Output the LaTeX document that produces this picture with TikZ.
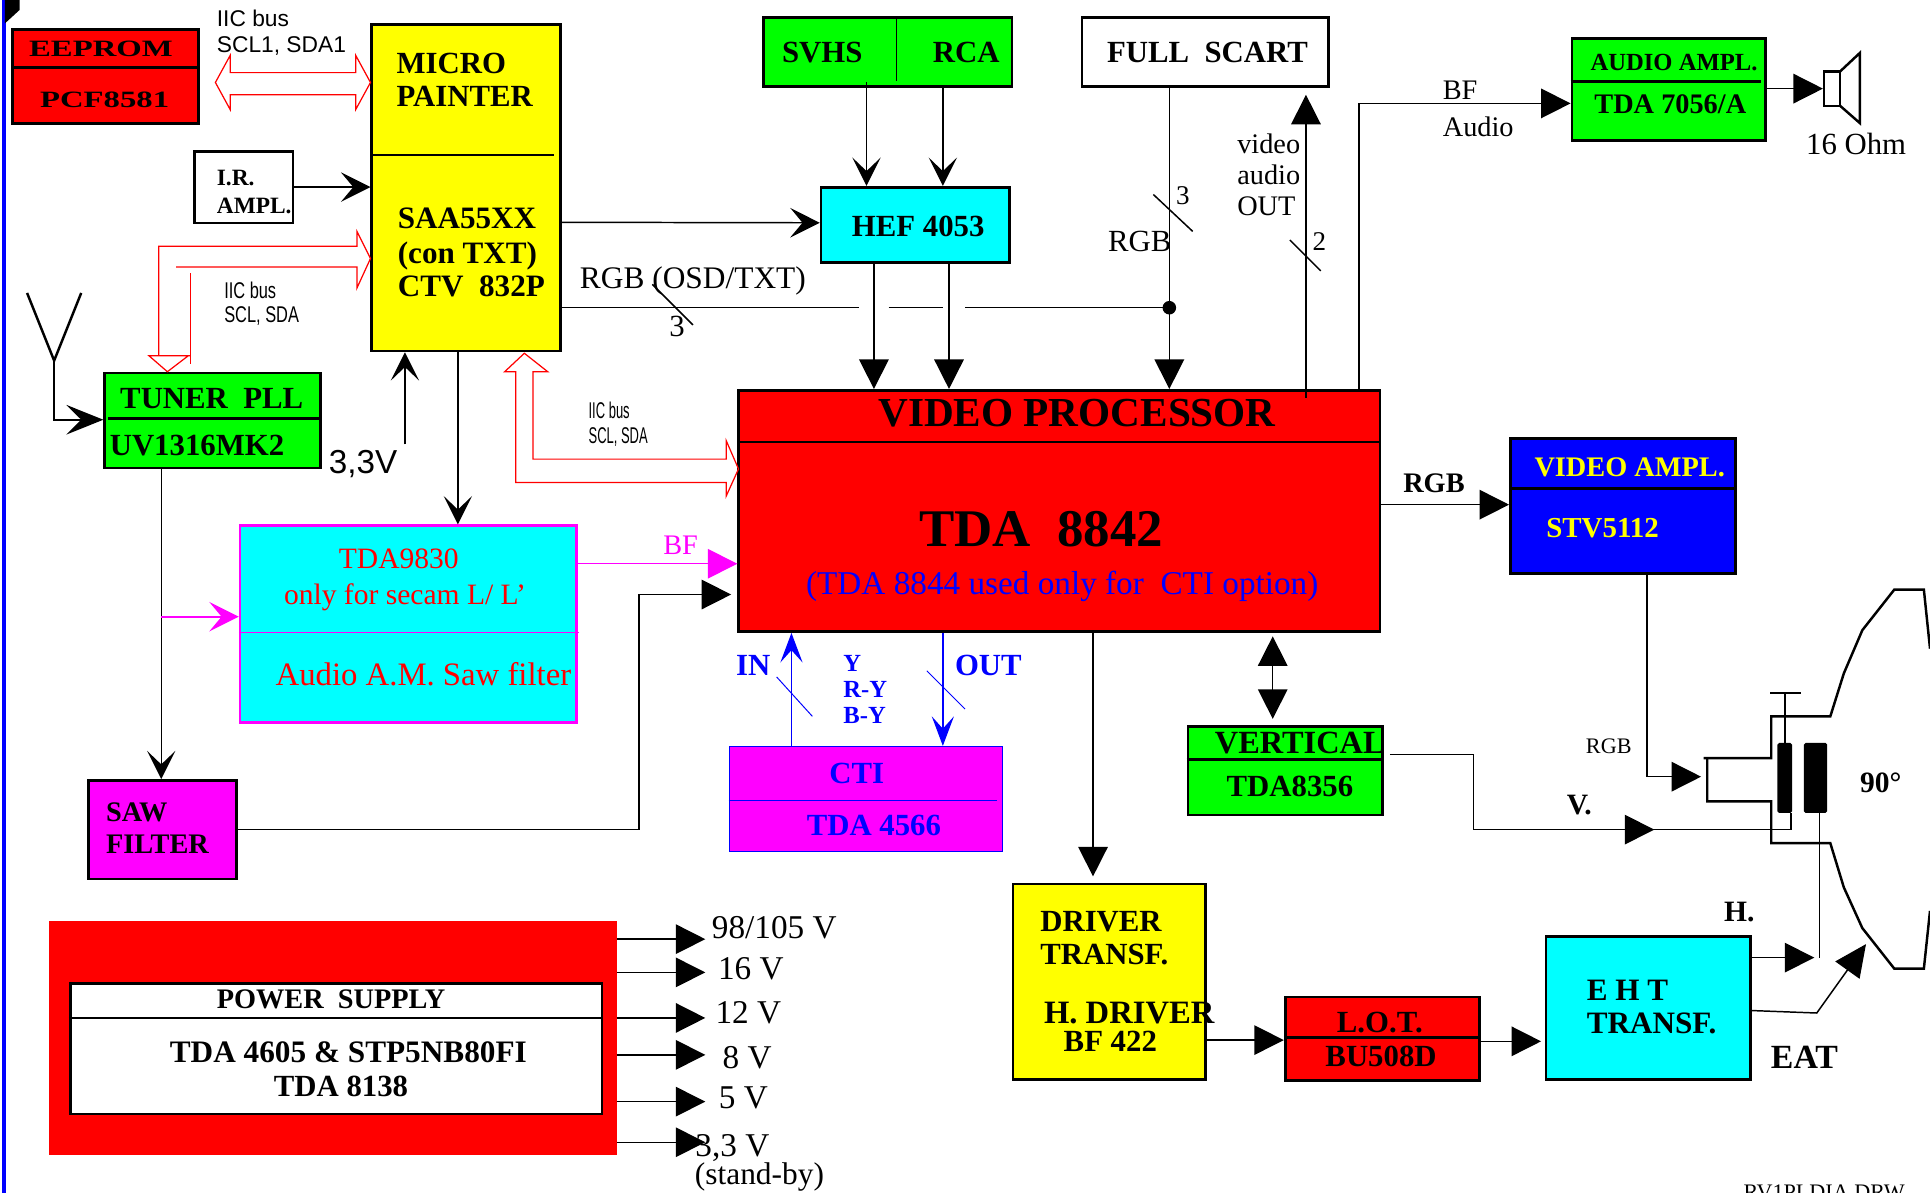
\documentclass[tikz,border=0pt]{standalone}
\usepackage{fontspec}
\setmainfont{Liberation Serif}
\setsansfont{Liberation Sans}
\usetikzlibrary{arrows.meta}
\newcommand{\sz}[1]{\fontsize{#1}{#1}\selectfont}
\definecolor{verde}{RGB}{0,255,0}
\definecolor{ciano}{RGB}{0,255,255}
\definecolor{viola}{RGB}{255,0,255}
\definecolor{giallo}{RGB}{255,255,0}

\begin{document}
\begin{tikzpicture}[
  x=1pt, y=-1pt,
  bloque/.style={rectangle, draw, line width=2.2pt, inner sep=0pt, anchor=north west,
                 xshift=-1pt, yshift=1pt},
  tit/.style={inner sep=0pt, font=\bfseries\sz{25}},
  rom/.style={inner sep=0pt, font=\sz{25}},
  volt/.style={inner sep=0pt, font=\sz{27}},
  sans/.style={inner sep=0pt, font=\sffamily\sz{18.5}},
  filo/.style={line width=1.2pt},
  sep/.style={line width=2.2pt},
  bus/.style={red, line width=1pt},
  grande/.style={-{Triangle[length=24pt,width=24pt]}, line width=1.2pt},
  aperta/.style={-{Stealth[length=23pt,width=23pt,inset=11pt]}, line width=1.2pt},
  tubo/.style={line width=2pt, line join=miter}
]
\useasboundingbox (0,0) rectangle (1568,969);

% blocchi
\node[bloque, fill=red, minimum width=151pt, minimum height=76pt] (eeprom) at (10,24) {};
\node[bloque, fill=giallo, minimum width=153pt, minimum height=265pt] (micro) at (302,20) {};
\node[bloque, fill=white, minimum width=80pt, minimum height=58pt] (iramp) at (158,123) {};
\node[bloque, fill=verde, minimum width=175pt, minimum height=77pt] (tuner) at (85,303) {};
\node[bloque, fill=verde, minimum width=202pt, minimum height=56pt] (svhs) at (620,14) {};
\node[bloque, fill=white, minimum width=200pt, minimum height=56pt] (scart) at (879,14) {};
\node[bloque, fill=ciano, minimum width=153pt, minimum height=61pt] (hef) at (667,152) {};
\node[bloque, fill=verde, minimum width=157pt, minimum height=83pt] (audio) at (1277,31) {};
\node[bloque, fill=red, minimum width=521pt, minimum height=196pt] (vproc) at (600,317) {};
\node[bloque, fill=blue, minimum width=183pt, minimum height=110pt] (vamp) at (1227,356) {};
\node[bloque, draw=viola, fill=ciano, minimum width=273pt, minimum height=160pt] (saw) at (195,427) {};
\node[bloque, fill=viola, minimum width=120pt, minimum height=80pt] (sawf) at (72,634) {};
\node[bloque, draw=blue, line width=1.2pt, fill=viola, minimum width=222pt, minimum height=85pt] (cti) at (593,607) {};
\node[bloque, fill=verde, minimum width=158pt, minimum height=72pt] (vert) at (965,590) {};
\node[bloque, fill=giallo, minimum width=156pt, minimum height=159pt] (driver) at (823,718) {};
\node[bloque, fill=red, minimum width=158pt, minimum height=68pt] (lot) at (1044,810) {};
\node[bloque, fill=ciano, minimum width=166pt, minimum height=116pt] (eht) at (1256,761) {};
\node[bloque, draw=none, fill=red, minimum width=461pt, minimum height=190pt, outer sep=0pt] (alim) at (41,749) {};
\node[bloque, fill=white, minimum width=432pt, minimum height=106pt] (alimi) at (57,799) {};

% divisori
\draw[sep] (eeprom.north west) ++(0,32) -- ++(151,0);
\draw[sep] (micro.north west) ++(0,107) -- ++(149,0);
\draw[sep] (tuner.north west) ++(4,38) -- ++(173,0);
\draw[line width=0.8pt] (svhs.north west) ++(109,0) -- ++(0,53);
\draw[sep] (audio.north west) ++(0,36) -- ++(155,0);
\draw[sep] (vproc.north west) ++(0,43) -- ++(521,0);
\draw[sep] (vamp.north west) ++(0,42) -- ++(183,0);
\draw[viola, line width=1.2pt] (saw.north west) ++(0,88) -- ++(276,0);
\draw[blue, line width=0.8pt] (cti.north west) ++(0,44) -- ++(218,0);
\draw[sep] (vert.north west) ++(0,28) -- ++(158,0);
\draw[sep] (lot.north west) ++(0,34) -- ++(158,0);
\draw[sep] (alimi.north west) ++(0,29) -- ++(432,0);

% testi dei blocchi
\node[tit, font=\bfseries\sz{19}] (eepromT) at (82,40) {\scalebox{1.4}[1]{EEPROM}};
\node[tit, font=\bfseries\sz{19}] (pcfT) at (85,81) {\scalebox{1.4}[1]{PCF8581}};
\node[tit, align=left, anchor=west] (microT) at (322,65) {MICRO\\[2pt]PAINTER};
\node[tit, font=\bfseries\sz{25.3}, align=left, anchor=west] (saaT) at (323,205) {SAA55XX\\[3pt](con TXT)\\[2pt]CTV\ \ 832P};
\node[tit, font=\bfseries\sz{19}, align=left, anchor=west] (irT) at (176,156) {I.R.\\[3pt]AMPL.};
\node[tit] (tunerT) at (172,324) {TUNER\ \ PLL};
\node[tit, anchor=west] (uvT) at (89,362) {UV1316MK2};
\node[tit] (svhsT) at (668,43) {SVHS};
\node[tit] (rcaT) at (785,43) {RCA};
\node[tit] (scartT) at (981,43) {FULL\ \ SCART};
\node[tit] (hefT) at (746,184) {HEF 4053};
\node[tit, font=\bfseries\sz{20}] (audioT) at (1360,51) {AUDIO AMPL.};
\node[tit, font=\bfseries\sz{23}] (tdaAT) at (1357,85) {TDA 7056/A};
\node[tit, font=\bfseries\sz{33.5}] (vprocT) at (875,336) {VIDEO PROCESSOR};
\node[tit, font=\bfseries\sz{43}] (tdaVT) at (846,430) {TDA\ \ 8842};
\node[rom, text=blue, font=\sz{27}] (ctiOpt) at (863,476) {(TDA 8844 used only for\ \ CTI option)};
\node[tit, text=giallo, font=\bfseries\sz{23}] (vampT) at (1324,380) {VIDEO AMPL.};
\node[tit, text=giallo, font=\bfseries\sz{23.5}] (stvT) at (1302,429) {STV5112};
\node[rom, text=red, font=\sz{24}] (sawA) at (324,454) {TDA9830};
\node[rom, text=red, font=\sz{24}] (sawB) at (329,485) {only for secam L/ L'};
\node[rom, text=red, font=\sz{26.6}] (sawC) at (344,548) {Audio A.M. Saw filter};
\node[tit, align=left, anchor=west, font=\bfseries\sz{23}] (sawfT) at (86,673) {SAW\\[3pt]FILTER};
\node[tit, text=blue] (ctiT) at (696,628) {CTI};
\node[tit, text=blue] (ctiB) at (710,671) {TDA 4566};
\node[tit, font=\bfseries\sz{26.3}] (vertT) at (1056,604) {VERTICAL};
\node[tit] (vertB) at (1048,639) {TDA8356};
\node[tit, align=left, anchor=west] (driverT) at (845,762) {DRIVER\\[2pt]TRANSF.};
\node[tit, font=\bfseries\sz{26.5}, anchor=west] (driverH) at (848,823) {H. DRIVER};
\node[tit, anchor=west] (driverB) at (864,846) {BF 422};
\node[tit] (lotT) at (1121,831) {L.O.T.};
\node[tit] (lotB) at (1122,858) {BU508D};
\node[tit, align=left, anchor=west, font=\bfseries\sz{25.3}] (ehtT) at (1289,818) {E H T\\[2pt]TRANSF.};
\node[tit, font=\bfseries\sz{23}] (alimT) at (269,812) {POWER\ \ SUPPLY};
\node[tit, font=\bfseries\sz{25.4}] (alimA) at (283,855) {TDA 4605 \& STP5NB80FI};
\node[tit] (alimB) at (277,883) {TDA 8138};

% connessioni
\coordinate (busTl) at (44,293);
\draw[line width=2pt] (22,238) -- (busTl) -- (66,238);
\draw[-{Stealth[length=30pt,width=24pt,inset=12pt]}, line width=2pt] (busTl) |- (tuner.west |- 0,341);
\draw[-{Stealth[length=24pt,width=24pt,inset=10pt]}, line width=1.4pt] (iramp.east |- 0,152) -- (micro.west |- 0,152);
\draw[-{Stealth[length=24pt,width=24pt,inset=10pt]}, filo] ([yshift=-28pt]micro.east) -- (hef.west |- 0,181);
\draw[aperta] (704,67) -- (hef.north -| 704,0);
\draw[aperta] (svhs.south -| 766,0) -- (hef.north -| 766,0);
\draw[grande] (hef.south -| 710,0) -- (vproc.north -| 710,0);
\draw[grande] (hef.south -| 771,0) -- (vproc.north -| 771,0);
\coordinate (nodoRGB) at (950,250);
\draw[grande] (scart.south -| 950,0) -- (vproc.north -| 950,0);
\fill (nodoRGB) circle (5.5pt);
\draw[filo] (micro.east |- 0,250) -- (698,250);
\draw[filo] (722,250) -- (766,250);
\draw[filo] (784,250) -- (nodoRGB);
\draw[filo] (530,231) -- (563,264);
\draw[filo] (937,158) -- (969,188);
\draw[filo] (1048,195) -- (1073,220);
\draw[grande] (1061,323) -- (1061,77);
\draw[grande] (vproc.north -| 1104,0) |- (audio.west |- 0,84);
\draw[grande] (audio.east |- 0,72) -- (1481,72);
\draw[tubo, fill=white] (1482,58) rectangle (1495,86);
\draw[tubo] (1495,58) -- (1511,43) -- (1511,100) -- (1495,86);
\draw[aperta] (micro.south -| 372,0) -- (saw.north -| 372,0);
\draw[aperta] (329,361) -- (micro.south -| 329,0);
\draw[aperta] (tuner.south -| 131,0) -- (sawf.north -| 131,0);
\draw[-{Stealth[length=24pt,width=24pt,inset=10pt]}, viola, line width=1.4pt] (131,501) -- (saw.west |- 0,501);
\draw[-{Triangle[length=24pt,width=24pt]}, viola, line width=1.2pt] (saw.east |- 0,458) -- (vproc.west |- 0,458);
\draw[grande] (sawf.east |- 0,674) -| (519,483) -- (594,483);
\draw[-{Stealth[length=24pt,width=18pt,inset=10pt]}, blue, filo] (cti.north -| 643,0) -- (vproc.south -| 643,0);
\draw[-{Stealth[length=24pt,width=18pt,inset=10pt]}, blue, filo] (vproc.south -| 766,0) -- (cti.north -| 766,0);
\draw[blue, line width=0.8pt] (631,550) -- (660,582);
\draw[blue, line width=0.8pt] (753,545) -- (784,576);
\draw[grande] (vproc.south -| 888,0) -- (888,712);
\draw[grande] (vproc.east |- 0,410) -- (vamp.west |- 0,410);
\draw[{Triangle[length=24pt,width=24pt]}-{Triangle[length=24pt,width=24pt]}, filo] (1034,517) -- (1034,584);
\draw[grande] (driver.east |- 0,845) -- (lot.west |- 0,845);
\draw[grande] (lot.east |- 0,846) -- (1252,846);

% alimentazione
\draw[grande] (alim.east |- 0,763) -- (573,763);
\draw[grande] (alim.east |- 0,790) -- (573,790);
\draw[grande] (alim.east |- 0,827) -- (573,827);
\draw[grande] (alim.east |- 0,857) -- (573,857);
\draw[grande] (alim.east |- 0,895) -- (573,895);
\draw[grande] (alim.east |- 0,928) -- (573,928);

% bus IIC
\draw[bus] (175,67) -- (187,45) -- (187,59) -- (289,59) -- (289,45) -- (301,67)
  -- (289,89) -- (289,77) -- (187,77) -- (187,89) -- cycle;
\draw[bus] (129,289) -- (129,200) -- (290,200) -- (290,188) -- (301,210) -- (290,234)
  -- (290,217) -- (143,217);
\draw[bus] (155,222) -- (155,296);
\draw[bus] (155,289) -- (121,289) -- (136,302) -- (153,289);
\draw[bus] (419,392) -- (419,302) -- (410,302) -- (426,287) -- (445,302) -- (433,302) -- (433,373)
  -- (590,373) -- (590,358) -- (600,381) -- (590,403) -- (590,392) -- cycle;

% cinescopio
\draw[-{Triangle[length=24pt,width=24pt]}, filo] (vamp.south -| 1338,0) |- (1382,631);
\draw[tubo] (1384,616) -- (1439,616) -- (1439,582) -- (1487,582) -- (1498,547) -- (1513,512) -- (1539,479) -- (1563,479) -- (1568,527);
\draw[tubo] (1387,616) -- (1387,651) -- (1439,651) -- (1439,685) -- (1487,685) -- (1498,721) -- (1513,754) -- (1539,787) -- (1563,787) -- (1568,740);
\draw[tubo] (1450,604) -- (1450,563) (1438,563) -- (1463,563);
\node[fill=black, rounded corners=1.5pt, minimum width=12pt, minimum height=57pt, inner sep=0pt] (bobA) at (1450,632) {};
\node[fill=black, rounded corners=1.5pt, minimum width=19pt, minimum height=57pt, inner sep=0pt] (bobB) at (1475,632) {};
\draw[filo] ([xshift=5pt,yshift=13pt]vert.east) -- ++(68,0) |- (1455,674) -- (bobA.south -| 1455,0);
\draw[-{Triangle[length=24pt,width=24pt]}, filo] (1280,674) -- (1344,674);
\draw[filo] (bobB.south -| 1478,0) -- (1478,778);
\draw[-{Triangle[length=24pt,width=24pt]}, filo] (eht.east |- 0,778) -- (1474,778);
\draw[-{Triangle[length=26pt,width=24pt]}, filo] (eht.east |- 0,821) -- (1476,823) -- (1516,767);

% etichette
\node[sans, anchor=west] (iicA) at (176,15) {IIC bus};
\node[sans, anchor=west] (iicB) at (176,37) {SCL1, SDA1};
\node[sans, anchor=west] (iicC) at (182,236) {\scalebox{.72}[1]{IIC bus}};
\node[sans, anchor=west] (iicD) at (182,257) {\scalebox{.72}[1]{SCL, SDA}};
\node[sans, anchor=west] (iicE) at (478,333) {\scalebox{.57}[1]{IIC bus}};
\node[sans, anchor=west] (iicF) at (478,355) {\scalebox{.57}[1]{SCL, SDA}};
\node[sans, font=\sffamily\sz{27}] (tre) at (295,377) {3,3V};
\node[rom, font=\sz{25.5}, anchor=west] (rgbOsd) at (471,228) {RGB (OSD/TXT)};
\node[rom] (n3a) at (550,265) {3};
\node[rom, font=\sz{22}] (n3b) at (961,159) {3};
\node[rom, font=\sz{22}] (n2) at (1072,196) {2};
\node[rom] (rgbS) at (926,196) {RGB};
\node[rom, font=\sz{23}, align=left, anchor=west] (vaOut) at (1005,142) {video\\[2pt]audio\\[2pt]OUT};
\node[rom, font=\sz{23}, anchor=west] (bfA) at (1172,73) {BF};
\node[rom, font=\sz{23}, anchor=west] (audioA) at (1172,103) {Audio};
\node[rom] (ohm) at (1508,117) {16 Ohm};
\node[tit, font=\bfseries\sz{23}] (rgbOut) at (1165,393) {RGB};
\node[rom, text=viola, font=\sz{23}] (bfV) at (553,443) {BF};
\node[tit, text=blue] (inT) at (612,541) {IN};
\node[tit, text=blue] (outT) at (803,541) {OUT};
\node[tit, text=blue, font=\bfseries\sz{20}, align=left, anchor=west] (yrb) at (685,560) {Y\\[1pt]R-Y\\[1pt]B-Y};
\node[rom, font=\sz{18}] (rgbTube) at (1307,606) {RGB};
\node[tit, font=\bfseries\sz{24}] (lblV) at (1283,654) {V.};
\node[tit, font=\bfseries\sz{24}] (lblH) at (1413,741) {H.};
\node[tit, font=\bfseries\sz{24}] (gradi) at (1528,636) {90°};
\node[tit, font=\bfseries\sz{27.5}] (lblEat) at (1466,859) {EAT};
\node[volt] (v98) at (629,754) {98/105 V};
\node[volt] (v16) at (610,787) {16 V};
\node[volt] (v12) at (608,823) {12 V};
\node[volt] (v8) at (607,859) {8 V};
\node[volt] (v5) at (604,892) {5 V};
\node[volt] (v33) at (595,933) {3,3 V};
\node[rom, font=\sz{25.5}] (vsb) at (617,956) {(stand-by)};
\node[rom, font=\sz{18}] (drw) at (1482,969) {RV1PLDIA.DRW};

% bordo
\fill[blue] (2,0) rectangle (5,969);
\fill[black] (4,0) -- (16,0) -- (16,8) -- (4,19) -- cycle;
\end{tikzpicture}
\end{document}
